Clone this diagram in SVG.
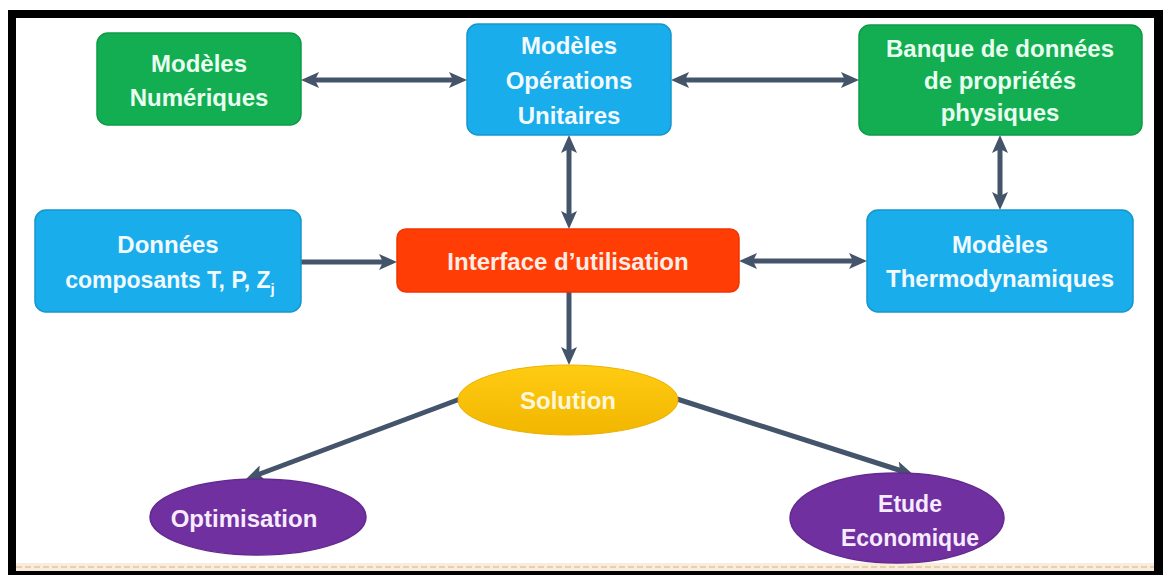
<svg xmlns="http://www.w3.org/2000/svg" width="1163" height="575" viewBox="0 0 1163 575">
  <style>
    .t { font-family: "Liberation Sans", Arial, sans-serif; font-weight: bold; font-size: 24px; text-anchor: middle; }
    .tg { fill: #E9FFF0; }
    .tb { fill: #F2FAFF; }
    .to { fill: #FFEDE6; }
    .ty { fill: #FFF7DC; }
    .tp { fill: #F7EBFF; }
    .green { fill: #12AE51; stroke: #0E9A47; stroke-width: 1.5; }
    .blue { fill: #19ADEC; stroke: #1496CF; stroke-width: 1.5; }
    .orange { fill: #FF3D05; stroke: #F03500; stroke-width: 1.5; }
    .purple { fill: #7030A0; stroke: #642A90; stroke-width: 1.5; }
    .conn { stroke: #44546A; stroke-width: 5; fill: none; }
  </style>
  <defs>
    <marker id="ah" markerUnits="userSpaceOnUse" markerWidth="18" markerHeight="16" refX="6" refY="8" orient="auto-start-reverse" viewBox="0 0 18 16">
      <path d="M0,0 L18,8 L0,16 L4,8 Z" fill="#44546A"/>
    </marker>
    <linearGradient id="gy" x1="0" y1="0" x2="0" y2="1">
      <stop offset="0" stop-color="#FFCC12"/>
      <stop offset="1" stop-color="#F2B600"/>
    </linearGradient>
  </defs>

  <rect x="0" y="0" width="1163" height="575" fill="#FFFFFF"/>

  <g id="frame">
    <rect x="16" y="563" width="1138" height="8" fill="#F7ECDD"/>
    <line x1="16" y1="567" x2="1154" y2="567" stroke="#EBCFA8" stroke-width="2" stroke-dasharray="6 3"/>
    <rect x="8" y="10" width="1155" height="8" fill="#000000"/>
    <rect x="8" y="10" width="8" height="565" fill="#000000"/>
    <rect x="1154" y="10" width="9" height="565" fill="#000000"/>
    <rect x="8" y="571" width="1155" height="4" fill="#000000"/>
  </g>

  <g id="connectors">
    <line class="conn" x1="313" y1="80" x2="455" y2="80" marker-start="url(#ah)" marker-end="url(#ah)"/>
    <line class="conn" x1="683" y1="80" x2="847" y2="80" marker-start="url(#ah)" marker-end="url(#ah)"/>
    <line class="conn" x1="569" y1="147" x2="569" y2="217" marker-start="url(#ah)" marker-end="url(#ah)"/>
    <line class="conn" x1="1000" y1="147" x2="1000" y2="198" marker-start="url(#ah)" marker-end="url(#ah)"/>
    <line class="conn" x1="301" y1="262" x2="385" y2="262" marker-end="url(#ah)"/>
    <line class="conn" x1="751" y1="261" x2="855" y2="261" marker-start="url(#ah)" marker-end="url(#ah)"/>
    <line class="conn" x1="569" y1="292" x2="569" y2="353" marker-end="url(#ah)"/>
    <line class="conn" x1="460" y1="399" x2="257" y2="475" marker-end="url(#ah)"/>
    <line class="conn" x1="677" y1="399" x2="902" y2="471" marker-end="url(#ah)"/>
  </g>

  <g id="modeles-numeriques">
    <rect class="green" x="97" y="33" width="204" height="92" rx="11"/>
    <text class="t tg" x="199" y="72">Modèles</text>
    <text class="t tg" x="199" y="106">Numériques</text>
  </g>

  <g id="modeles-operations-unitaires">
    <rect class="blue" x="467" y="24" width="204" height="111" rx="11"/>
    <text class="t tb" x="569" y="54">Modèles</text>
    <text class="t tb" x="569" y="89">Opérations</text>
    <text class="t tb" x="569" y="124">Unitaires</text>
  </g>

  <g id="banque-donnees">
    <rect class="green" x="859" y="25" width="283" height="110" rx="11"/>
    <text class="t tg" x="1000" y="57">Banque de données</text>
    <text class="t tg" x="1000" y="89">de propriétés</text>
    <text class="t tg" x="1000" y="121">physiques</text>
  </g>

  <g id="donnees-composants">
    <rect class="blue" x="35" y="210" width="266" height="102" rx="11"/>
    <text class="t tb" x="168" y="253">Données</text>
    <text class="t tb" x="170" y="288" style="font-size:23px">composants T, P, Z<tspan dy="6" style="font-size:15px">j</tspan></text>
  </g>

  <g id="interface-utilisation">
    <rect class="orange" x="397" y="229" width="342" height="63" rx="9"/>
    <text class="t to" x="568" y="270">Interface d’utilisation</text>
  </g>

  <g id="modeles-thermodynamiques">
    <rect class="blue" x="867" y="210" width="266" height="102" rx="11"/>
    <text class="t tb" x="1000" y="253">Modèles</text>
    <text class="t tb" x="1000" y="287">Thermodynamiques</text>
  </g>

  <g id="solution">
    <ellipse cx="568" cy="400" rx="110" ry="35" fill="url(#gy)" stroke="#EDB000" stroke-width="1"/>
    <text class="t ty" x="568" y="409">Solution</text>
  </g>

  <g id="optimisation">
    <ellipse class="purple" cx="258" cy="517" rx="108" ry="38"/>
    <text class="t tp" x="244" y="527">Optimisation</text>
  </g>

  <g id="etude-economique">
    <ellipse class="purple" cx="897" cy="518" rx="107" ry="45"/>
    <text class="t tp" x="910" y="512" style="font-size:23px">Etude</text>
    <text class="t tp" x="910" y="546" style="font-size:23px">Economique</text>
  </g>
</svg>
